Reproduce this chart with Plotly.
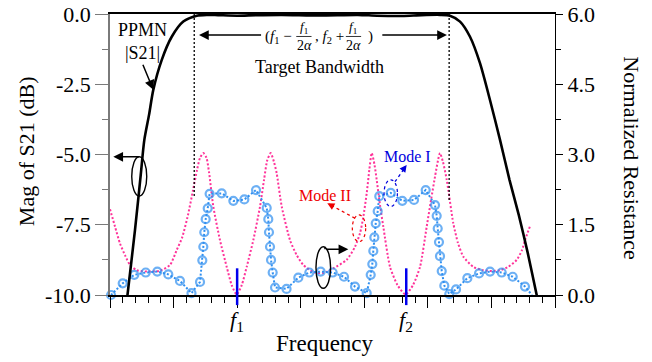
import plotly.graph_objects as go

# ---- data -------------------------------------------------------------
# PPMN |S21| in dB (left axis)
s21_freq = [0.244, 0.275, 0.393, 0.483, 0.540, 0.614, 0.681, 0.813, 0.971, 1.153,
            1.364, 1.521, 1.70, 2.00, 2.30, 2.70, 3.30, 3.90, 4.20, 4.60, 4.90,
            5.191, 5.348, 5.506, 5.663, 5.820, 5.977, 6.135, 6.285, 6.430, 6.572,
            6.712, 6.764]
s21_db = [-10.6, -10.0, -7.69, -5.73, -4.48, -3.59, -2.70, -1.64, -0.81, -0.27,
          -0.06, -0.03, -0.04, -0.06, -0.04, -0.03, -0.05, -0.03, -0.06, -0.07, -0.04,
          -0.03, -0.06, -0.27, -0.81, -1.75, -3.06, -4.48, -5.91, -7.15, -8.51,
          -10.0, -10.53]

# Mode II normalized resistance (right axis)
mode2_freq = [0.000, 0.079, 0.157, 0.236, 0.315, 0.420, 0.602, 0.787, 0.944, 1.049,
              1.133, 1.227, 1.306, 1.369, 1.416, 1.468, 1.518, 1.557, 1.625, 1.730,
              1.836, 1.915, 1.993, 2.072, 2.150, 2.254, 2.360, 2.423, 2.474, 2.528,
              2.580, 2.622, 2.701, 2.832, 2.937, 3.041, 3.198, 3.355, 3.513, 3.723,
              3.854, 3.933, 3.985, 4.038, 4.079, 4.117, 4.161, 4.195, 4.247, 4.299,
              4.405, 4.523, 4.649, 4.766, 4.877, 4.982, 5.050, 5.113, 5.160, 5.191,
              5.238, 5.297, 5.400, 5.474, 5.558, 5.715, 5.868, 6.009, 6.135, 6.261,
              6.398, 6.481, 6.528, 6.607]
mode2_r = [1.83, 1.46, 1.10, 0.85, 0.64, 0.53, 0.50, 0.52, 0.64, 0.96,
           1.22, 1.71, 2.24, 2.67, 2.93, 3.03, 2.93, 2.63, 1.89, 1.17,
           0.60, 0.21, 0.01, 0.21, 0.60, 1.17, 1.89, 2.46, 2.88, 3.03,
           2.84, 2.60, 1.89, 1.17, 0.85, 0.64, 0.49, 0.47, 0.57, 0.75,
           1.03, 1.32, 1.67, 2.17, 2.67, 3.03, 2.78, 2.46, 1.92, 1.46,
           0.60, 0.21, 0.01, 0.21, 0.60, 1.46, 2.03, 2.53, 2.88, 3.03,
           2.84, 2.46, 1.53, 1.11, 0.82, 0.60, 0.53, 0.51, 0.53, 0.60,
           0.75, 0.96, 1.17, 1.47]

# Mode I normalized resistance (right axis)
mode1_freq = [0.016, 0.200, 0.382, 0.562, 0.744, 0.917, 1.101, 1.282, 1.416, 1.452,
              1.468, 1.483, 1.505, 1.537, 1.567, 1.757, 1.940, 2.113, 2.297, 2.465,
              2.490, 2.501, 2.517, 2.533, 2.559, 2.596, 2.777, 2.962, 3.135, 3.314,
              3.503, 3.681, 3.854, 4.038, 4.101, 4.126, 4.142, 4.158, 4.180, 4.211,
              4.236, 4.416, 4.598, 4.782, 4.966, 5.113, 5.139, 5.155, 5.175, 5.191,
              5.218, 5.259, 5.337, 5.443, 5.621, 5.805, 5.978, 6.162, 6.335, 6.528,
              6.638]
mode1_r = [0.00, 0.25, 0.43, 0.48, 0.50, 0.44, 0.30, 0.04, 0.28, 0.74,
           1.03, 1.34, 1.62, 1.85, 2.16, 2.17, 2.01, 2.04, 2.24, 1.86,
           1.62, 1.34, 1.03, 0.75, 0.48, 0.16, 0.13, 0.37, 0.48, 0.50,
           0.48, 0.39, 0.18, 0.04, 0.43, 0.66, 0.94, 1.23, 1.53, 1.79,
           2.11, 2.18, 2.01, 2.03, 2.24, 1.92, 1.69, 1.42, 1.13, 0.83,
           0.51, 0.20, 0.02, 0.12, 0.36, 0.46, 0.50, 0.48, 0.39, 0.18,
           0.00]

# centre frequencies and half-step f1/(2*alpha)
f1 = 2.0
f2 = 4.66
half_step = 0.675
band_lo = f1 - half_step
band_hi = f2 + half_step

left_ticks = [-10.0, -7.5, -5.0, -2.5, 0.0]
left_ticktext = ["-10.0", "-7.5", "-5.0", "-2.5", "0.0"]

# ---- styling ----------------------------------------------------------
SERIF = "Liberation Serif, Times New Roman, serif"
PINK = "#ff3399"
LBLUE = "#2f8ff0"
GREY = "#7a7a7a"

fig = go.Figure()

fig.add_trace(go.Scatter(
    x=mode2_freq, y=mode2_r, yaxis="y", mode="lines",
    line=dict(color=PINK, width=2, dash="2px,2px", shape="spline", smoothing=0.6),
    showlegend=False))

m1_sizes = [8] * (len(mode1_freq) - 1) + [0]
fig.add_trace(go.Scatter(
    x=mode1_freq, y=mode1_r, yaxis="y", mode="lines+markers",
    line=dict(color=LBLUE, width=2, dash="2px,2px"),
    marker=dict(symbol="circle-open", size=m1_sizes, color=LBLUE,
                line=dict(width=2.2, color=LBLUE)),
    cliponaxis=False, showlegend=False))

fig.add_trace(go.Scatter(
    x=s21_freq, y=s21_db, yaxis="y2", mode="lines",
    line=dict(color="black", width=2.6, shape="spline", smoothing=0.7),
    showlegend=False))

# band-edge guides
for xe, ye in [(band_lo, -6.5), (band_hi, -6.65)]:
    fig.add_trace(go.Scatter(
        x=[xe, xe], y=[0, ye], yaxis="y2", mode="lines",
        line=dict(color="black", width=1.3, dash="2px,2px"), showlegend=False))

shapes = []
# f1 / f2 markers
for fc in (f1, f2):
    shapes.append(dict(type="line", xref="x", yref="paper", x0=fc, x1=fc,
                       y0=-0.036, y1=0.57 / 6.0,
                       line=dict(color="#0000ee", width=2.5)))

# ellipses
shapes.append(dict(type="circle", xref="x", yref="y2", x0=0.342, x1=0.578,
                   y0=-6.48, y1=-5.08, line=dict(color="black", width=1.4)))
shapes.append(dict(type="circle", xref="x", yref="y", x0=3.240, x1=3.470,
                   y0=0.143, y1=1.031, line=dict(color="black", width=1.4)))
shapes.append(dict(type="circle", xref="x", yref="y", x0=3.812, x1=4.022,
                   y0=1.14, y1=1.71, line=dict(color="#ee0000", width=1.2, dash="dot")))
shapes.append(dict(type="circle", xref="x", yref="y", x0=4.311, x1=4.521,
                   y0=1.89, y1=2.46, line=dict(color="#0000dd", width=1.2, dash="dot")))
# dotted leader lines
shapes.append(dict(type="line", xref="x", yref="y", x0=3.854, y0=1.638,
                   x1=3.50, y1=1.90, line=dict(color="#ee0000", width=1.3, dash="dot")))
shapes.append(dict(type="line", xref="x", yref="y", x0=4.483, y0=2.419,
                   x1=4.63, y1=2.70, line=dict(color="#0000dd", width=1.3, dash="dot")))
# fraction bars
for xa, xb in [(2.93, 3.17), (3.71, 3.95)]:
    shapes.append(dict(type="line", xref="x", yref="y2", x0=xa, x1=xb,
                       y0=-0.80, y1=-0.80, line=dict(color="black", width=0.8)))

ann = []


def text(x, y, s, size=18, color="black", yref="y2", xanchor="center", **kw):
    ann.append(dict(x=x, y=y, xref="x", yref=yref, text=s, showarrow=False,
                    xanchor=xanchor, yanchor="middle",
                    font=dict(family=SERIF, size=size, color=color), **kw))


def arrow(x, y, ax, ay, yref="y2", color="black", width=1.5, size=1.3):
    ann.append(dict(x=x, y=y, ax=ax, ay=ay, xref="x", yref=yref, axref="x",
                    ayref=yref, text="", showarrow=True, arrowhead=2,
                    arrowsize=size, arrowwidth=width, arrowcolor=color, standoff=0))


text(0.519, -0.57, "PPMN")
text(0.519, -1.39, "|S21|")
arrow(0.681, -2.70, 0.508, -1.755)

text(3.303, -1.875, "Target Bandwidth")
arrow(1.40, -0.75, 2.40, -0.75)
arrow(5.30, -0.75, 4.26, -0.75)
text(2.405, -0.81, "(<i>f</i><sub>1</sub> −", size=15, xanchor="left")
text(3.052, -0.48, "<i>f</i><sub>1</sub>", size=13)
text(3.052, -1.13, "2<i>α</i>", size=14)
text(3.19, -0.81, ", <i>f</i><sub>2</sub> +", size=15, xanchor="left")
text(3.83, -0.48, "<i>f</i><sub>1</sub>", size=13)
text(3.83, -1.13, "2<i>α</i>", size=14)
text(4.09, -0.81, ")", size=15)

# axis pointers
arrow(0.052, -5.08, 0.479, -5.08)
arrow(3.749, 0.976, 3.382, 0.976, yref="y")
shapes.append(dict(type="line", xref="x", yref="y", x0=3.382, x1=3.382,
                   y0=0.976, y1=1.031, line=dict(color="black", width=1.5)))

# mode labels
text(3.382, 2.135, "Mode II", size=16, color="#ee0000", yref="y")
arrow(3.418, 1.958, 3.52, 1.885, yref="y", color="#ee0000", width=1.3, size=1.1)
text(4.680, 2.947, "Mode I", size=16, color="#0000dd", yref="y")
arrow(4.667, 2.776, 4.62, 2.69, yref="y", color="#0000dd", width=1.3, size=1.1)

# frequency labels under the axis
for fc, lab in [(f1, "<i>f</i><sub>1</sub>"), (f2, "<i>f</i><sub>2</sub>")]:
    ann.append(dict(x=fc, y=0, xref="x", yref="paper", text=lab, showarrow=False,
                    xanchor="center", yanchor="middle", yshift=-26,
                    font=dict(family=SERIF, size=22, color="black")))

# axis titles
ann.append(dict(x=0, y=0.512, xref="paper", yref="paper", xshift=-84,
                xanchor="center", yanchor="middle",
                text="Mag of S21 (dB)", textangle=-90, showarrow=False,
                font=dict(family=SERIF, size=22, color="black")))
ann.append(dict(x=1, y=0.49, xref="paper", yref="paper", xshift=77,
                xanchor="center", yanchor="middle",
                text="Normalized Resistance", textangle=90, showarrow=False,
                font=dict(family=SERIF, size=22, color="black")))
ann.append(dict(x=0.483, y=0, xref="paper", yref="paper", yshift=-48,
                xanchor="center", yanchor="middle",
                text="Frequency", showarrow=False,
                font=dict(family=SERIF, size=23, color="black")))

fig.update_layout(
    width=652, height=362,
    margin=dict(l=110, r=97, t=14, b=67, autoexpand=False),
    paper_bgcolor="white", plot_bgcolor="white",
    font=dict(family=SERIF, size=22, color="black"),
    shapes=shapes, annotations=ann,
    xaxis=dict(range=[0, 7], showgrid=False, zeroline=False, automargin=False,
               showline=True, linecolor="black", linewidth=1.5, mirror=True,
               ticks="outside", tick0=0, dtick=1, ticklen=11, tickwidth=1.4,
               tickcolor="black", showticklabels=False,
               minor=dict(ticks="outside", dtick=0.2, ticklen=6, tickwidth=1.2,
                          tickcolor="black")),
    yaxis=dict(range=[0, 6], side="right", showgrid=False, zeroline=False,
               automargin=False,
               showline=True, linecolor="black", linewidth=1.4,
               ticks="outside", tick0=0, dtick=1.5, ticklen=7, tickwidth=1.2,
               tickcolor="black", tickformat=".1f",
               tickfont=dict(family=SERIF, size=22),
               minor=dict(ticks="outside", dtick=0.75, ticklen=5, tickwidth=1.2,
                          tickcolor="black")),
    yaxis2=dict(range=[-10, 0], side="left", overlaying="y", anchor="x",
                showgrid=False, zeroline=False, automargin=False,
                showline=True, linecolor=GREY, linewidth=1.6,
                ticks="outside", tickmode="array", tickvals=left_ticks,
                ticktext=left_ticktext, ticklen=13, tickwidth=1.3, tickcolor=GREY,
                tickfont=dict(family=SERIF, size=22),
                minor=dict(ticks="outside", tickmode="array",
                           tickvals=[-8.75, -6.25, -3.75, -1.25],
                           ticklen=6, tickwidth=1.2, tickcolor=GREY)),
)

fig.write_html("out.html")
